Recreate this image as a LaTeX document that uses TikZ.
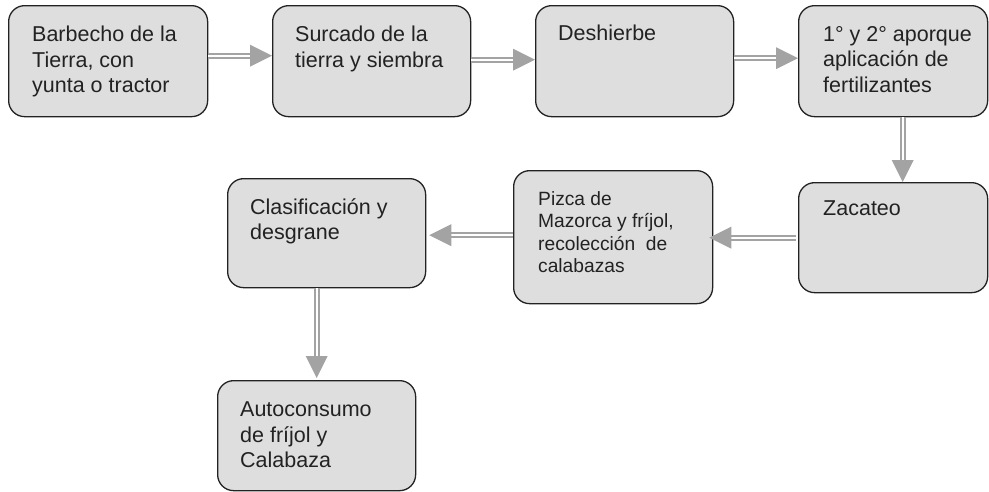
\documentclass[tikz,border=0pt]{standalone}
\usepackage{fontspec}
\setmainfont{Liberation Sans}
\definecolor{boxfill}{RGB}{222,222,222}
\definecolor{boxline}{RGB}{34,34,34}
\definecolor{ag}{RGB}{163,163,163}
\definecolor{txtc}{RGB}{34,34,34}
\begin{document}
\begin{tikzpicture}[x=1pt,y=-1pt,
  box/.style={draw=boxline, fill=boxfill, rounded corners=16pt, line width=1.3pt, anchor=north west, inner sep=0pt},
  txt/.style={anchor=north west, inner sep=0pt, align=left, text=txtc, font=\fontsize{21.5}{25.5}\selectfont},
  txts/.style={txt, font=\fontsize{19.2}{22.5}\selectfont},
  shaft/.style={draw=ag, double=white, double distance=2.3pt, line width=1.9pt},
  head/.style={fill=ag}]
\useasboundingbox (0,0) rectangle (989,491);
% boxes
\node[box, minimum width=199pt, minimum height=111pt] (b1) at (8,5) {};
\node[box, minimum width=198pt, minimum height=111pt] (b2) at (272,5) {};
\node[box, minimum width=198pt, minimum height=111pt] (b3) at (535,5) {};
\node[box, minimum width=189pt, minimum height=111pt] (b4) at (798,5) {};
\node[box, minimum width=189pt, minimum height=110pt] (b5) at (798,182) {};
\node[box, minimum width=199pt, minimum height=133pt] (b6) at (513,170) {};
\node[box, minimum width=198pt, minimum height=109pt] (b7) at (227,178) {};
\node[box, minimum width=198pt, minimum height=110pt] (b8) at (217,380) {};
% texts
\node[txt] (t1) at (32,26) {Barbecho de la\\Tierra, con\\yunta o tractor};
\node[txt] (t2) at (295,26) {Surcado de la\\tierra y siembra};
\node[txt] (t3) at (558,25) {Deshierbe};
\node[txt] (t4) at (823,26) {1° y 2° aporque\\aplicación de\\fertilizantes};
\node[txt] (t5) at (823,201) {Zacateo};
\node[txts] (t6) at (538,191) {Pizca de\\Mazorca y fríjol,\\recolección\ \ de\\calabazas};
\node[txt] (t7) at (250,198) {Clasificación y\\desgrane};
\node[txt] (t8) at (240,402) {Autoconsumo\\de fríjol y\\Calabaza};
% arrows
\draw[shaft] ([yshift=5.5pt]b1.east) -- ([xshift=-21pt,yshift=5.5pt]b2.west);
\fill[head] ([yshift=5.5pt]b2.west) -- ++(-22,-11) -- ++(0,22) -- cycle;
\draw[shaft] ([yshift=1.5pt]b2.east) -- ([xshift=-21pt,yshift=1.5pt]b3.west);
\fill[head] ([yshift=1.5pt]b3.west) -- ++(-22,-11) -- ++(0,22) -- cycle;
\draw[shaft] ([yshift=3pt]b3.east) -- ([xshift=-21pt,yshift=3pt]b4.west);
\fill[head] ([yshift=3pt]b4.west) -- ++(-22,-11) -- ++(0,22) -- cycle;
\draw[shaft] ([xshift=9.5pt]b4.south) -- ([xshift=9.5pt,yshift=21pt]b5.north);
\fill[head] ([xshift=9.5pt]b5.north) -- ++(-11,-22) -- ++(22,0) -- cycle;
\draw[shaft] ([xshift=-2pt]b5.west) -- ([xshift=17pt]b6.east |- b5.west);
\fill[head] ([xshift=-4pt]b6.east |- b5.west) -- ++(22,-11) -- ++(0,22) -- cycle;
\draw[shaft] ([yshift=2pt]b6.west) -- ([xshift=24pt,yshift=2pt]b7.east |- b6.west);
\fill[head] ([xshift=3pt,yshift=2pt]b7.east |- b6.west) -- ++(22,-11) -- ++(0,22) -- cycle;
\draw[shaft] (b8.north |- b7.south) -- ([yshift=23pt]b8.north);
\fill[head] ([yshift=2pt]b8.north) -- ++(-11,-22) -- ++(22,0) -- cycle;
\end{tikzpicture}
\end{document}
